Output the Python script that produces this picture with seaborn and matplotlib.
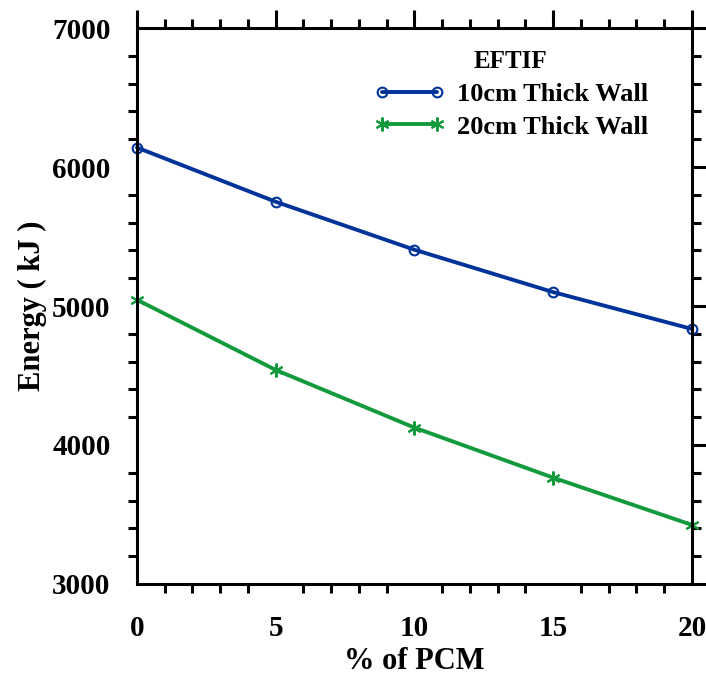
import matplotlib
matplotlib.use("Agg")
import matplotlib.pyplot as plt
from matplotlib.ticker import MultipleLocator
import seaborn as sns
import pandas as pd

pcm = [0, 5, 10, 15, 20]
wall_10cm = [6140, 5750, 5405, 5100, 4835]
wall_20cm = [5045, 4540, 4125, 3765, 3425]
series_names = ["10cm Thick Wall", "20cm Thick Wall"]
legend_title = "EFTIF"

sns.set_style("white")
plt.rcParams['font.family'] = ['Liberation Serif', 'DejaVu Serif']
plt.rcParams['font.weight'] = 'bold'
plt.rcParams['text.color'] = 'black'
plt.rcParams['axes.labelcolor'] = 'black'
plt.rcParams['xtick.color'] = 'black'
plt.rcParams['ytick.color'] = 'black'

fig = plt.figure(figsize=(7.06, 6.77), dpi=100)
ax = fig.add_axes([0.194, 0.1374, 0.786, 0.8212])

df = pd.DataFrame({
    "pcm": pcm * 2,
    "energy": wall_10cm + wall_20cm,
    "series": [series_names[0]] * len(pcm) + [series_names[1]] * len(pcm),
})

colors = ["#003399", "#139a3c"]
markers = ["o", (6, 2, 0)]
for name, c, m in zip(series_names, colors, markers):
    sub = df[df["series"] == name]
    kw = dict(markerfacecolor="none", markeredgecolor=c, markeredgewidth=1.5, markersize=7) if m == "o" \
        else dict(markeredgecolor=c, markeredgewidth=1.5, markersize=10)
    sns.lineplot(data=sub, x="pcm", y="energy", ax=ax, color=c, linewidth=2.8,
                 marker=m, label=name, clip_on=False, **kw)

ax.set_xlim(0, 20)
ax.set_ylim(3000, 7000)
ax.xaxis.set_major_locator(MultipleLocator(5))
ax.xaxis.set_minor_locator(MultipleLocator(1))
ax.yaxis.set_major_locator(MultipleLocator(1000))
ax.yaxis.set_minor_locator(MultipleLocator(200))

for s in ax.spines.values():
    s.set_linewidth(2.2)
    s.set_color("black")

ax.tick_params(which="major", direction="out", length=13, width=2.2, color="black",
               top=True, right=True, labelsize=21, labelcolor="black")
ax.tick_params(which="minor", direction="out", length=6.5, width=2.2, color="black",
               top=True, right=True, bottom=True, left=True)
ax.tick_params(axis="x", which="major", pad=9)
ax.tick_params(axis="y", which="major", pad=6)
for lab in ax.get_xticklabels() + ax.get_yticklabels():
    lab.set_fontweight("bold")

ax.set_xlabel("% of PCM", fontsize=22, fontweight="bold", labelpad=4, color="black")
ax.set_ylabel("Energy ( kJ )", fontsize=22, fontweight="bold", labelpad=4, color="black")

leg = ax.legend(title=legend_title, loc="upper left", bbox_to_anchor=(0.384, 1.003),
                frameon=False, fontsize=19, title_fontproperties={"weight": "bold", "size": 18},
                handlelength=2.7, handletextpad=0.45, labelspacing=0.35, numpoints=2)
for t in leg.get_texts():
    t.set_fontweight("bold")
    t.set_color("black")
leg.get_title().set_color("black")

fig.savefig("out.png", dpi=100)
